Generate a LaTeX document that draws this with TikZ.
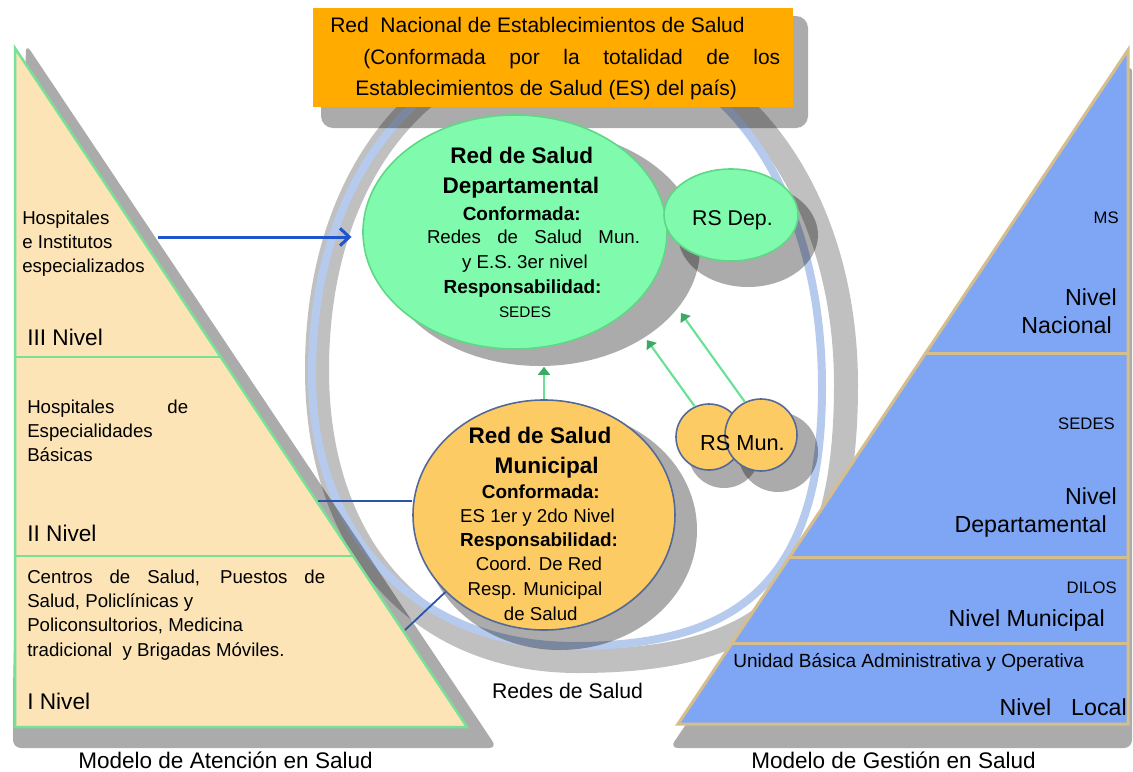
\documentclass[tikz,border=0pt]{standalone}
\usepackage{fontspec}
\setmainfont{Liberation Sans}
\usepackage{xcolor}
\usepackage{tikz}
\usetikzlibrary{positioning}
\usetikzlibrary{arrows.meta,shapes.geometric}
\usetikzlibrary{calc}

\definecolor{tanfill}{RGB}{252,228,182}
\definecolor{leafline}{RGB}{120,225,150}
\definecolor{tanline}{RGB}{214,190,140}
\definecolor{gestblue}{RGB}{126,166,245}
\definecolor{redorange}{RGB}{255,171,0}
\definecolor{depgreen}{RGB}{128,250,172}
\definecolor{depline}{RGB}{95,215,135}
\definecolor{munorange}{RGB}{253,203,100}
\definecolor{munline}{RGB}{85,105,150}
\definecolor{ringgray}{RGB}{192,192,192}
\definecolor{ringblue}{RGB}{182,202,238}
\definecolor{arrowblue}{RGB}{30,85,205}
\definecolor{lineblue}{RGB}{45,85,165}
\definecolor{arrowgreen}{RGB}{105,225,150}
\definecolor{tipgreen}{RGB}{60,170,100}

\newcommand{\fsz}[1]{\fontsize{#1}{#1}\selectfont}

\tikzstyle{shadowfill}=[fill=black,opacity=0.33,draw=none]
\tikzstyle{lefttext}=[anchor=base west,inner sep=0pt,font=\fsz{14pt}]
\tikzstyle{leftnivel}=[anchor=base west,inner sep=0pt,font=\fsz{17pt}]
\tikzstyle{righttext}=[anchor=base east,inner sep=0pt,font=\fsz{17.4pt}]
\tikzstyle{rightsmall}=[anchor=base east,inner sep=0pt,font=\fsz{12.5pt}]
\tikzstyle{boxtext}=[anchor=base west,inner sep=0pt,font=\fsz{15.75pt}]
\tikzstyle{celltitle}=[anchor=base,inner sep=0pt,font=\fsz{16.9pt}\bfseries]
\tikzstyle{cellhead}=[anchor=base,inner sep=0pt,font=\fsz{14.2pt}\bfseries]
\tikzstyle{celltext}=[anchor=base,inner sep=0pt,font=\fsz{14pt}]
\tikzstyle{caption}=[anchor=base,inner sep=0pt,font=\fsz{16.9pt}]
\tikzstyle{bigvertex}=[ellipse,inner sep=0pt,line width=1.2pt]
\tikzstyle{rsvertex}=[circle,inner sep=0pt,draw=munline,fill=munorange,line width=1.2pt]
\tikzstyle{greenarrow}=[draw=arrowgreen,line width=1.6pt,-{Triangle[length=6pt,width=9pt,color=tipgreen]}]

\begin{document}
\begin{tikzpicture}[x=0.75pt,y=-0.75pt]
\def\u{0.75pt}
\useasboundingbox (0,0) rectangle (1133,772);

 %Redes de Salud (anillo)
 \draw[ringgray,line width=24*\u] (317,370) .. controls (317,545) and (418,661) .. (578,661)
     .. controls (770,661) and (846,590) .. (846,385) .. controls (846,185) and (730,40) .. (580,40)
     .. controls (430,40) and (317,170) .. cycle;
 \draw[ringblue,line width=8*\u] (312,375) .. controls (312,540) and (420,646) .. (575,646)
     .. controls (745,646) and (822,575) .. (822,387) .. controls (822,180) and (715,42) .. (575,42)
     .. controls (425,42) and (312,175) .. cycle;

 %Modelo de Atencion
 \fill[shadowfill,rounded corners=8*\u] (26,44) -- (497,748) -- (13,748) -- (13,690) -- cycle;
 \draw[leafline,fill=tanfill,line width=2.5*\u] (15,48) -- (15,727) -- (467,727) -- cycle;
 \draw[leafline,line width=2.5*\u] (15,357) -- (220.7,357) (15,556) -- (353.2,556);

 \foreach \x/\y/\name/\label in {22/224/hospA/Hospitales, 22/248/hospB/e Institutos, 22/272/hospC/especializados,
     27/413/hospD/{\makebox[120.75pt][s]{Hospitales de}}, 27/437/hospE/Especialidades, 27/461/hospF/Básicas}
   \node[lefttext] (\name) at (\x,\y) {\label};

 \foreach \y/\name/\label in {583/centA/{\makebox[223.5pt][s]{Centros de Salud, Puestos de}},
     607/centB/{Salud, Policlínicas y}, 631/centC/{Policonsultorios, Medicina}, 656/centD/{tradicional\ \ y Brigadas Móviles.}}
   \node[lefttext] (\name) at (27,\y) {\label};

 \foreach \y/\name/\label in {345/nivIII/III Nivel, 541/nivII/II Nivel, 709/nivI/I Nivel}
   \node[leftnivel] (\name) at (27,\y) {\label};

 \node[caption] (atencion) at (225.5,768) {Modelo de Atención en Salud};

 %Modelo de Gestion
 \fill[shadowfill,rounded corners=8*\u] (1132,64) -- (1132,748) -- (670,748) -- cycle;
 \draw[tanline,fill=gestblue,line width=3*\u] (1128,50) -- (1128,724) -- (678,724) -- cycle;
 \draw[tanline,line width=3*\u] (925.7,353) -- (1128,353) (789.5,557) -- (1128,557) (732.1,643) -- (1128,643);

 \foreach \x/\y/\name/\label in {1117/305/nivNac/Nivel, 1112/333/nacional/Nacional, 1117/504/nivDep/Nivel,
     1107/532/departamental/Departamental, 1105/626/nivMun/Nivel Municipal, 1127/715/nivLoc/{\makebox[95.25pt][s]{Nivel Local}}}
   \node[righttext] (\name) at (\x,\y) {\label};

 \foreach \x/\y/\name/\label in {1119/223/ms/MS, 1115/429/sedes/SEDES, 1117/593/dilos/DILOS}
   \node[rightsmall] (\name) at (\x,\y) {\label};

 \node[anchor=base west,inner sep=0pt,font=\fsz{14.3pt}] (unidad) at (733,667) {Unidad Básica Administrativa y Operativa};
 \node[caption] (gestion) at (893.5,768) {Modelo de Gestión en Salud};

 %Red Nacional
 \fill[shadowfill,rounded corners=12*\u] (321,16) rectangle (808,128);
 \node[fill=redorange,anchor=north west,inner sep=0pt,minimum width=480*\u,minimum height=99*\u] (redNac) at (313,8) {};
 \node[boxtext] (redA) at (330,32) {Red\ \ Nacional de Establecimientos de Salud};
 \node[boxtext] (redB) at (363,64) {\makebox[312.75pt][s]{(Conformada por la totalidad de los}};
 \node[boxtext] (redC) at (355,95) {Establecimientos de Salud (ES) del país)};

 %Red Departamental
 \node[bigvertex,shadowfill,minimum width=2*160*\u,minimum height=2*118*\u] (depShadow) at (540,248) {};
 \node[bigvertex,draw=depline,fill=depgreen,minimum width=2*152*\u,minimum height=2*117*\u] (dep) at (515,232) {};
 \foreach \x/\y/\name/\label in {521.7/163/depA/Red de Salud, 520.8/193/depB/Departamental}
   \node[celltitle] (\name) at (\x,\y) {\label};
 \foreach \x/\y/\name/\label in {521.7/220/depC/Conformada:, 522.5/293/depF/Responsabilidad:}
   \node[cellhead] (\name) at (\x,\y) {\label};
 \foreach \x/\y/\name/\label in {533.5/243/depD/{\makebox[159.75pt][s]{Redes de Salud Mun.}}, 525/268/depE/y E.S. 3er nivel}
   \node[celltext] (\name) at (\x,\y) {\label};
 \node[celltext,font=\fsz{11.5pt}] (depG) at (525,317) {SEDES};

 \node[bigvertex,shadowfill,minimum width=2*70*\u,minimum height=2*52*\u] (rsdShadow) at (748,235) {};
 \node[bigvertex,draw=depline,fill=depgreen,minimum width=2*67*\u,minimum height=2*46*\u] (rsd) at (731,215) {};
 \node[celltext,font=\fsz{16pt}] (rsdText) at (732.5,225) {RS Dep.};

 %Red Municipal
 \node[bigvertex,shadowfill,minimum width=2*137*\u,minimum height=2*120*\u] (munShadow) at (560,530) {};
 \node[bigvertex,draw=munline,fill=munorange,minimum width=2*131*\u,minimum height=2*115*\u] (mun) at (544,515) {};
 \foreach \x/\y/\name/\label in {540/443/munA/Red de Salud, 546.7/473/munB/Municipal}
   \node[celltitle] (\name) at (\x,\y) {\label};
 \foreach \x/\y/\name/\label in {540.8/498/munC/Conformada:, 539/546/munE/Responsabilidad:}
   \node[cellhead] (\name) at (\x,\y) {\label};
 \foreach \x/\y/\name/\label in {537.5/522/munD/ES 1er y 2do Nivel, 539/570/munF/Coord. De Red,
     535/595/munG/Resp. Municipal, 540.8/620/munH/de Salud}
   \node[celltext] (\name) at (\x,\y) {\label};

 \node[rsvertex,shadowfill,minimum size=2*36*\u] (rsmShadowA) at (724,452) {};
 \node[rsvertex,shadowfill,minimum size=2*40*\u] (rsmShadowB) at (778,452) {};
 \node[rsvertex,minimum size=2*33*\u] (rsmA) at (709,437) {};
 \node[rsvertex,minimum size=2*36*\u] (rsmB) at (761,435) {};
 \node[celltext,font=\fsz{16.3pt}] (rsmText) at (742.5,450) {RS Mun.};

 \node[caption,font=\fsz{15.9pt}] (redes) at (567.5,698) {Redes de Salud};

 %conectores
 \coordinate (hospArrow) at (158,237);
 \coordinate (nivelIILine) at (318,501);
 \coordinate (nivelILine) at (405,630);
 \coordinate (depTipA) at (647,340);
 \coordinate (depTipB) at (681,313);

 \draw[arrowblue,line width=3*\u,-{Straight Barb[length=7pt,width=13pt]},shorten >=8pt] (hospArrow) -- (hospArrow -| dep.west);
 \draw[lineblue,line width=2.5*\u] (nivelIILine) -- (nivelIILine -| mun.west);
 \draw[lineblue,line width=1.8*\u] (nivelILine) -- (mun.218);

 \draw[greenarrow] (mun.north) -- (mun.north |- depShadow.south);
 \draw[greenarrow] (rsmA.115) -- (depTipA);
 \draw[greenarrow] (rsmB.116) -- (depTipB);

\end{tikzpicture}
\end{document}
